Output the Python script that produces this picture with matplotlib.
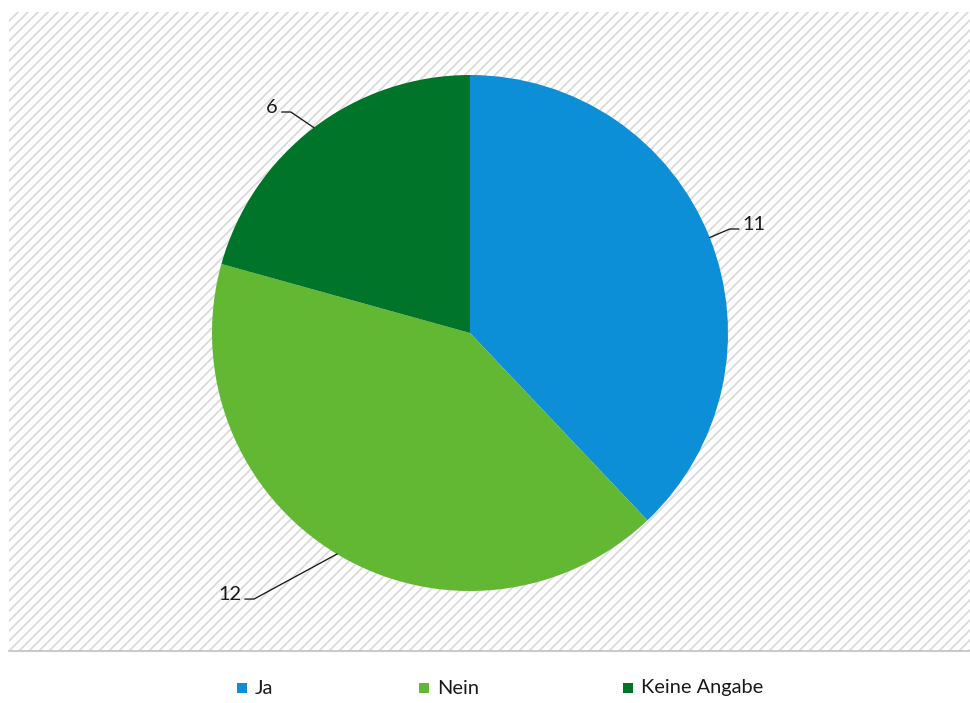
import numpy as np
import matplotlib.pyplot as plt
from matplotlib.patches import Rectangle

categories = ['Ja', 'Nein', 'Keine Angabe']
values = [11, 12, 6]
colors = ['#0c8fd6', '#62b832', '#00752a']

# elbow of each leader line, offset from the wedge edge (pixels, y up)
elbow_offset = [(20, 8.5), (-83, -45), (-23, 15.6)]
leg_x = [237, 419, 623]

W, H = 970, 703
DPI = 120
plt.rcParams['font.family'] = ['Lato', 'DejaVu Sans']
plt.rcParams['hatch.linewidth'] = 1.1

fig = plt.figure(figsize=(W / DPI, H / DPI), dpi=DPI)
ax = fig.add_axes([0, 0, 1, 1])

# striped plot area
ax.add_patch(Rectangle((9, 52), W - 9, 639, facecolor='white', edgecolor='#dadada',
                       linewidth=0, hatch='////', zorder=0))
ax.plot([9, W], [52, 52], color='#c0c0c0', lw=1.0, zorder=1)

cx, cy, r = 470, H - 333, 258
wedges, _ = ax.pie(values, colors=colors, startangle=90, counterclock=False,
                   center=(cx, cy), radius=r, frame=True,
                   wedgeprops=dict(linewidth=0))
ax.set_xlim(0, W)
ax.set_ylim(0, H)
ax.set_aspect('equal')
ax.axis('off')

for w, v, off in zip(wedges, values, elbow_offset):
    ang = np.deg2rad((w.theta1 + w.theta2) / 2)
    ex, ey = cx + r * np.cos(ang), cy + r * np.sin(ang)
    bx, by = ex + off[0], ey + off[1]
    if off[0] > 0:
        hx = bx + 9
        ax.text(hx + 4, by - 1, str(v), ha='left', va='baseline', fontsize=12,
                color='#1a1a1a')
    else:
        hx = bx - 9
        ax.text(hx - 4, by - 1, str(v), ha='right', va='baseline', fontsize=12,
                color='#1a1a1a')
    ax.plot([ex, bx, hx], [ey, by, by], color='#1a1a1a', lw=0.8, zorder=5)

# legend
for name, c, x in zip(categories, colors, leg_x):
    ax.add_patch(Rectangle((x, H - 693), 10, 10, facecolor=c, edgecolor='none'))
    ax.text(x + 18, H - 688, name, ha='left', va='center', fontsize=12,
            color='#1a1a1a')

fig.savefig('out.png', dpi=DPI)
